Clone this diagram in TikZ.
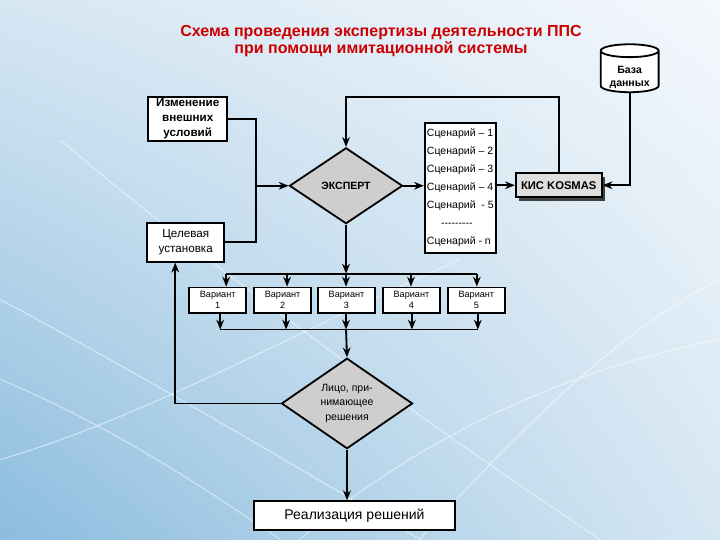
\documentclass[tikz,border=0pt]{standalone}
\usepackage{fontspec}
\setmainfont{Liberation Sans}
\usetikzlibrary{shapes.geometric,arrows.meta,shadows,shadings}

\definecolor{titlered}{RGB}{204,0,0}
\definecolor{bgblue}{RGB}{140,188,222}
\definecolor{bglight}{RGB}{214,231,243}
\definecolor{bgwhite}{RGB}{244,248,252}
\definecolor{rhombgray}{RGB}{206,206,206}
\definecolor{kisgray}{RGB}{222,222,222}

\begin{document}
\begin{tikzpicture}[x=0.025cm, y=-0.025cm, line width=1.3pt,
  >={Stealth[length=7pt,width=5.5pt]},
  box/.style = {draw, fill=white, inner sep=1pt, align=center},
  var/.style = {box, minimum width=1.43cm, minimum height=0.63cm, font=\fontsize{6.5}{7.5}\selectfont},
  rhomb/.style = {diamond, draw, fill=rhombgray, inner sep=0pt, align=center},
  streak/.style = {white, opacity=0.55, line width=0.7pt}]

  % background
  \shade[upper left=bglight, upper right=bgwhite, lower left=bgblue, lower right=bglight] (0,0) rectangle (720,540);
  \draw[streak] (0,300) .. controls (150,380) and (300,470) .. (420,540);
  \draw[streak] (0,380) .. controls (120,430) and (220,500) .. (280,540);
  \draw[streak] (60,140) .. controls (200,260) and (420,420) .. (600,540);
  \draw[streak] (0,460) .. controls (140,420) and (300,330) .. (460,260);
  \draw[streak] (420,540) .. controls (520,430) and (620,330) .. (720,280);
  \draw[streak] (300,540) .. controls (380,470) and (520,380) .. (720,340);
  \useasboundingbox (0,0) rectangle (720,540);

  \node[text=titlered, font=\bfseries\fontsize{11.4}{12.5}\selectfont, align=center] (title) at (381,41)
    {Схема проведения экспертизы деятельности ППС\\при помощи имитационной системы};

  \node[cylinder, shape border rotate=90, draw, fill=white, aspect=0.3, minimum width=1.45cm, minimum height=1.2cm,
    inner sep=1pt, font=\bfseries\fontsize{7.5}{9}\selectfont] (db) at (630,73)
    {\raisebox{-5pt}[0pt][0pt]{\begin{tabular}{@{}c@{}}База\\данных\end{tabular}}};

  \node[box, minimum width=1.98cm, minimum height=1.1cm, inner sep=0pt, font=\bfseries\fontsize{8.3}{10.6}\selectfont] (izm) at (187.5,119) {Изменение\\внешних\\условий};
  \node[box, minimum width=1.93cm, minimum height=0.98cm, font=\fontsize{8.3}{11}\selectfont] (cel) at (185.5,242.5) {Целевая\\установка};
  \node[rhomb, minimum width=2.83cm, minimum height=1.9cm, font=\bfseries\fontsize{7.5}{8}\selectfont] (exp) at (346,186) {ЭКСПЕРТ};
  \node[box, minimum width=1.78cm, minimum height=3.25cm, align=left, font=\fontsize{7.5}{12.8}\selectfont] (scen) at (460.5,188)
    {Сценарий – 1\\Сценарий – 2\\Сценарий – 3\\Сценарий – 4\\Сценарий~ - 5\\\hspace*{10pt}{-}{-}{-}{-}{-}{-}{-}{-}{-}\\Сценарий - n};
  \node[box, fill=kisgray, minimum width=2.15cm, minimum height=0.6cm,
    drop shadow={shadow xshift=2.5pt, shadow yshift=-2.5pt, fill=black!75, opacity=1},
    font=\bfseries\fontsize{8}{9}\selectfont] (kis) at (559,185.5) {КИС KOSMAS};

  \foreach \n/\x in {1/217.5, 2/282.5, 3/346.5, 4/411.5, 5/476.5}
    \node[var] (v\n) at (\x,300.5) {Вариант\\\n};

  \node[rhomb, minimum width=3.28cm, minimum height=1.88cm, font=\fontsize{7.5}{10}\selectfont] (lpr) at (347,404) {Лицо, при-\\нимающее\\решения};
  \node[box, minimum width=5.03cm, minimum height=0.73cm, font=\fontsize{10}{12}\selectfont] (real) at (354.5,516.5) {Реализация решений};

  \coordinate (jn) at (256,186);
  \coordinate (top) at (346,97);
  \coordinate (fb) at (175,404);

  \draw (izm.east) -| (jn) |- (cel.east);
  \draw[->] (jn) -- (exp.west);
  \draw[->] (kis.north) |- (top) -- (exp.north);
  \draw[->] (exp.east) -- (exp.east -| scen.west);
  \draw[->] (kis.west -| scen.east) -- (kis.west);
  \draw[->] (db.south) |- (kis.east);

  \foreach \n/\x in {1/226, 2/287, 3/346, 4/411, 5/477} {
    \coordinate (t\n) at (\x,274);
    \draw[->] (t\n) -- (t\n |- v\n.north);
  }
  \foreach \n/\x in {1/220, 2/286, 3/346, 4/412, 5/478} {
    \coordinate (b\n) at (\x,330);
    \draw[->] (b\n |- v\n.south) -- (b\n);
  }
  \draw[->] (exp.south) -- (t3);
  \draw (t1) -- (t5);
  \draw (b1) -- (b5);
  \draw[->] (b3) -- (lpr.north);

  \draw[->] (lpr.west) -- (fb) -- (fb |- cel.south);
  \draw[->] (lpr.south) -- (lpr.south |- real.north);
\end{tikzpicture}
\end{document}
